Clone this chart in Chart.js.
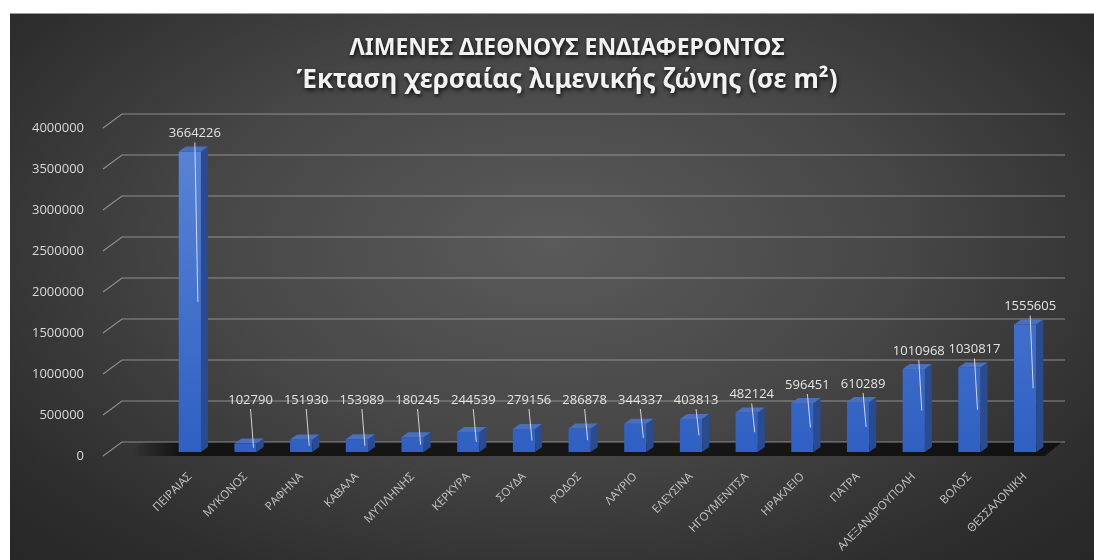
<!DOCTYPE html>
<html>
<head>
<meta charset="utf-8">
<script src="https://cdn.jsdelivr.net/npm/chart.js@4.4.0/dist/chart.umd.min.js"></script>
<style>
  html, body { margin: 0; padding: 0; background: #fff; }
  #wrap {
    position: absolute; left: 10px; top: 13px; width: 1084px; height: 547px;
    background: radial-gradient(ellipse 70% 80% at 50% 42%, #5a5a5a 0%, #474747 45%, #2d2d2d 85%, #272727 100%);
    border-top: 1px solid #9a9a9a;
  }
</style>
</head>
<body>
<div id="wrap"><canvas id="ports" width="1084" height="547"></canvas></div>
<script>
const titleLines = ['ΛΙΜΕΝΕΣ ΔΙΕΘΝΟΥΣ ΕΝΔΙΑΦΕΡΟΝΤΟΣ', 'Έκταση χερσαίας λιμενικής ζώνης (σε m²)'];

const ports = ['ΠΕΙΡΑΙΑΣ', 'ΜΥΚΟΝΟΣ', 'ΡΑΦΗΝΑ', 'ΚΑΒΑΛΑ', 'ΜΥΤΙΛΗΝΗΣ', 'ΚΕΡΚΥΡΑ', 'ΣΟΥΔΑ', 'ΡΟΔΟΣ',
  'ΛΑΥΡΙΟ', 'ΕΛΕΥΣΙΝΑ', 'ΗΓΟΥΜΕΝΙΤΣΑ', 'ΗΡΑΚΛΕΙΟ', 'ΠΑΤΡΑ', 'ΑΛΕΞΑΝΔΡΟΥΠΟΛΗ', 'ΒΟΛΟΣ', 'ΘΕΣΣΑΛΟΝΙΚΗ'];

const landArea = [3664226, 102790, 151930, 153989, 180245, 244539, 279156, 286878,
  344337, 403813, 482124, 596451, 610289, 1010968, 1030817, 1555605];

const yMax = 4000000;
const yStep = 500000;

const font = '"Open Sans", "Noto Sans", sans-serif';
const titleFont = '"Noto Sans", "Open Sans", sans-serif';
const depthX = 7, depthY = -5;     // depth of each bar
const wallX = 19, wallY = -14;     // depth of the back wall

// back wall grid, floor shadow, 3d faces, labels, title
const wallPlugin = {
  id: 'wall',
  beforeDatasetsDraw(chart) {
    const ctx = chart.ctx;
    const a = chart.chartArea;
    const yScale = chart.scales.y;
    ctx.save();
    // floor
    const fy = a.bottom;
    const g = ctx.createLinearGradient(a.left - 30, 0, a.left + 20, 0);
    g.addColorStop(0, 'rgba(0,0,0,0)');
    g.addColorStop(1, 'rgba(10,10,10,0.8)');
    ctx.fillStyle = g;
    ctx.beginPath();
    ctx.moveTo(a.left - 20, fy - 10);
    ctx.lineTo(a.right + 9, fy - 10);
    ctx.lineTo(a.right - 8, fy + 4);
    ctx.lineTo(a.left - 38, fy + 4);
    ctx.closePath();
    ctx.fill();
    // grid
    ctx.strokeStyle = 'rgba(170,170,170,0.75)';
    ctx.lineWidth = 1.2;
    yScale.ticks.forEach(t => {
      const y = yScale.getPixelForValue(t.value);
      ctx.beginPath();
      ctx.moveTo(93, y + 4);
      ctx.lineTo(93 + wallX, y + 4 + wallY);
      ctx.lineTo(a.right + 12, y + 4 + wallY);
      ctx.stroke();
    });
    ctx.restore();
  },
  afterDatasetsDraw(chart) {
    const ctx = chart.ctx;
    const meta = chart.getDatasetMeta(0);
    ctx.save();
    meta.data.forEach((bar) => {
      const l = bar.x - bar.width / 2, r = bar.x + bar.width / 2;
      const top = bar.y, base = bar.base;
      // side
      ctx.fillStyle = '#2a4b8f';
      ctx.beginPath();
      ctx.moveTo(r, top);
      ctx.lineTo(r + depthX, top + depthY);
      ctx.lineTo(r + depthX, base + depthY);
      ctx.lineTo(r, base);
      ctx.closePath();
      ctx.fill();
      // top
      ctx.fillStyle = '#4a6fbd';
      ctx.beginPath();
      ctx.moveTo(l, top);
      ctx.lineTo(l + depthX, top + depthY);
      ctx.lineTo(r + depthX, top + depthY);
      ctx.lineTo(r, top);
      ctx.closePath();
      ctx.fill();
    });
    // value labels with leader lines
    ctx.font = '13px ' + font;
    ctx.textAlign = 'center';
    ctx.textBaseline = 'middle';
    meta.data.forEach((bar, i) => {
      const top = bar.y, base = bar.base;
      const ly = Math.min(top - 18, base - 52);
      const lx = bar.x + 5;
      ctx.strokeStyle = 'rgba(235,235,235,0.85)';
      ctx.lineWidth = 1;
      ctx.beginPath();
      ctx.moveTo(lx, ly + 9);
      ctx.lineTo(bar.x + 8, (top + base) / 2);
      ctx.stroke();
      ctx.fillStyle = '#e3e3e3';
      ctx.fillText(String(landArea[i]), lx, ly);
    });
    ctx.restore();
  },
  afterDraw(chart) {
    const ctx = chart.ctx;
    ctx.save();
    ctx.textAlign = 'center';
    ctx.textBaseline = 'middle';
    ctx.fillStyle = '#f2f2f2';
    ctx.shadowColor = 'rgba(0,0,0,0.85)';
    ctx.shadowBlur = 4;
    ctx.shadowOffsetX = 1;
    ctx.shadowOffsetY = 2;
    ctx.font = 'bold 23px ' + titleFont;
    ctx.fillText(titleLines[0], 557, 34);
    ctx.font = 'bold 26px ' + titleFont;
    ctx.fillText(titleLines[1], 557, 67);
    ctx.restore();
  }
};

const ctx = document.getElementById('ports').getContext('2d');
const chart = new Chart(ctx, {
  type: 'bar',
  data: {
    labels: ports,
    datasets: [{
      label: 'Έκταση',
      data: landArea,
      backgroundColor(c) {
        const a = c.chart.chartArea;
        if (!a) return '#4472c4';
        const g = c.chart.ctx.createLinearGradient(0, a.top, 0, a.bottom);
        g.addColorStop(0, '#5b86d8');
        g.addColorStop(1, '#2f60c2');
        return g;
      },
      borderWidth: 0,
      barPercentage: 0.4,
      categoryPercentage: 1
    }]
  },
  options: {
    responsive: false,
    animation: false,
    layout: { padding: { top: 110, right: 41, left: 0, bottom: 0 } },
    plugins: { legend: { display: false }, tooltip: { enabled: false } },
    scales: {
      x: {
        grid: { display: false },
        border: { display: false },
        ticks: { color: '#c4c4c4', font: { family: font, size: 11.5 }, minRotation: 45, maxRotation: 45, padding: 10 },
        afterFit(s) { s.height = 109; }
      },
      y: {
        min: 0, max: yMax,
        grid: { display: false },
        border: { display: false },
        ticks: {
          stepSize: yStep, color: '#d9d9d9', font: { family: font, size: 13 }, padding: 70, labelOffset: 4,
          callback: (v) => String(v)
        },
        afterFit(s) { s.width = 152; }
      }
    }
  },
  plugins: [wallPlugin]
});
</script>
</body>
</html>
